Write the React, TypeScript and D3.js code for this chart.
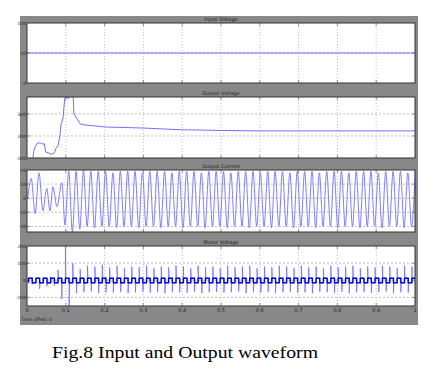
import React from "react";
import * as d3 from "d3";

// ---------- data ----------
const X_TICKS = [0, 0.1, 0.2, 0.3, 0.4, 0.5, 0.6, 0.7, 0.8, 0.9, 1];
const X_LABELS = ["0", "0.1", "0.2", "0.3", "0.4", "0.5", "0.6", "0.7", "0.8", "0.9", "1"];

const TITLES = ["Input Voltage", "Output Voltage", "Output Current", "Motor Voltage"];

const Y1_TICKS = [0, 50, 100];
const Y2_TICKS = [100, 200, 300];
const Y3_TICKS = [-20, -10, 0, 10, 20];
const Y4_TICKS = [-100, 0, 100, 200];

// Input voltage (flat)
const VIN_T = [0, 1];
const VIN_V = [50, 50];

// Output voltage
const VOUT_T = [0.015, 0.018, 0.022, 0.027, 0.035, 0.04, 0.045, 0.048, 0.055, 0.06, 0.066, 0.07, 0.075, 0.08, 0.085, 0.088, 0.093, 0.097, 0.1, 0.103, 0.108, 0.112, 0.118, 0.121, 0.131, 0.137, 0.15, 0.2, 0.3, 0.35, 0.4, 0.45, 0.5, 0.6, 0.7, 1.0];
const VOUT_V = [95, 136, 155, 168, 168, 164, 164, 127, 123, 118, 118, 123, 145, 155, 205, 255, 282, 368, 380, 372, 372, 420, 420, 300, 273, 255, 250, 241, 236, 232, 228, 227, 225, 223, 223, 223];

// Output current: early section (time, value)
const IOUT_EARLY_T = [0.002, 0.011, 0.021, 0.031, 0.041, 0.051, 0.059, 0.067, 0.077, 0.09];
const IOUT_EARLY_V = [0, 14, -11, 18, -9, 7, -9, 8, -6, 11];
// Output current: successive extremes after 0.098 s, one every half period
const IOUT_START = 0.098;
const IOUT_HALF = 0.0095;
const IOUT_EXT = [
  -19, 19, -24, 19, -22, 20, -20, 19, -21, 19,
  -20, 19, -20, 18, -21, 19, -20, 19, -20, 19,
  -21, 18, -20, 19, -20, 19, -21, 19, -20, 18,
  -20, 19, -21, 19, -20, 19, -20, 18, -21, 19,
  -20, 19, -20, 19, -21, 18, -20, 19, -20, 19,
  -21, 19, -20, 18, -20, 19, -21, 19, -20, 19,
  -20, 18, -21, 19, -20, 19, -20, 19, -21, 18,
  -20, 19, -20, 19, -21, 19, -20, 18, -20, 19,
  -21, 19, -20, 19, -20, 18, -21, 19, -20, 19,
  -20, 19, -21, 18, -20, 19,
];

// Motor voltage: per-cycle square wave levels and switching spikes
const VM_START = 0.004;
const VM_PERIOD = 0.019;
const VM_HIGH = 12;
const VM_LOW = -14;
const VM_UP = [
  10, 12, 15, 20, 60, 220, 100, 65, 85, 80,
  90, 75, 85, 70, 80, 75, 85, 70, 80, 75,
  85, 80, 70, 85, 75, 80, 70, 85, 75, 80,
  85, 70, 80, 75, 85, 80, 70, 85, 75, 80,
  70, 85, 75, 80, 85, 70, 80, 75, 85, 80,
  70, 85, 80,
];
const VM_DOWN = [
  -25, -50, -35, -30, -110, -170, -75, -70, -65, -75,
  -70, -72, -68, -75, -70, -65, -72, -70, -75, -68,
  -70, -72, -66, -75, -70, -68, -72, -70, -65, -75,
  -70, -72, -68, -75, -70, -66, -72, -70, -75, -68,
  -70, -72, -66, -75, -70, -68, -72, -70, -65, -75,
  -70, -72, -68,
];

// ---------- layout ----------
const L = 27;
const R = 415;
const PANELS = [
  { top: 23, bottom: 83, domain: [0, 100], ticks: Y1_TICKS },
  { top: 97, bottom: 158, domain: [100, 377], ticks: Y2_TICKS },
  { top: 170, bottom: 232, domain: [-24, 20], ticks: Y3_TICKS },
  { top: 246, bottom: 306, domain: [-150, 200], ticks: Y4_TICKS },
];

const LIGHT = "#7070ff";
const DARK = "#0000e0";

export default function App() {
  const x = d3.scaleLinear().domain([0, 1]).range([L, R]);
  const ys = PANELS.map((p) => d3.scaleLinear().domain(p.domain).range([p.bottom, p.top]));

  const lineLin = (y: any) =>
    d3.line<[number, number]>().x((d) => x(d[0])).y((d) => y(d[1]));

  const vinPts: [number, number][] = VIN_T.map((t, i) => [t, VIN_V[i]]);
  const voutPts: [number, number][] = VOUT_T.map((t, i) => [t, VOUT_V[i]]);

  const ioutPts: [number, number][] = IOUT_EARLY_T.map((t, i) => [t, IOUT_EARLY_V[i]]);
  IOUT_EXT.forEach((v, i) => ioutPts.push([IOUT_START + i * IOUT_HALF, v]));
  const ioutPath = d3
    .line<[number, number]>()
    .x((d) => x(d[0]))
    .y((d) => ys[2](d[1]))
    .curve(d3.curveMonotoneX)(ioutPts);

  const vmSpike: [number, number][] = [];
  const vmSquare: [number, number][] = [];
  VM_UP.forEach((up, i) => {
    const s = VM_START + i * VM_PERIOD;
    const h = s + VM_PERIOD / 2;
    vmSpike.push([s, VM_LOW], [s, up], [s + 0.0012, VM_HIGH], [h, VM_HIGH], [h, VM_DOWN[i]], [h + 0.0012, VM_LOW], [s + VM_PERIOD, VM_LOW]);
    vmSquare.push([s, VM_LOW], [s, VM_HIGH], [h, VM_HIGH], [h, VM_LOW], [s + VM_PERIOD, VM_LOW]);
  });

  const fontTiny = "'DejaVu Sans', sans-serif";

  return (
    <svg width={433} height={376} style={{ position: "absolute", left: 0, top: 0, background: "#fff" }}>
      <defs>
        {PANELS.map((p, i) => (
          <clipPath id={`clip${i}`} key={i}>
            <rect x={L} y={p.top} width={R - L} height={p.bottom - p.top} />
          </clipPath>
        ))}
      </defs>
      <rect x={20} y={16} width={398} height={309} fill="#888888" />
      {PANELS.map((p, i) => {
        const y = ys[i];
        return (
          <g key={i}>
            <text x={(L + R) / 2} y={p.top - 2} fontSize={5} fontFamily={fontTiny} fill="#222" textAnchor="middle">
              {TITLES[i]}
            </text>
            <rect x={L} y={p.top} width={R - L} height={p.bottom - p.top} fill="#fff" />
            {X_TICKS.map((t, k) =>
              k === 0 || k === X_TICKS.length - 1 ? null : (
                <g key={k}>
                  <line x1={x(t)} x2={x(t)} y1={p.top} y2={p.bottom} stroke="#b0b0b0" strokeWidth={0.8} strokeDasharray="1,2" />
                  <line x1={x(t)} x2={x(t)} y1={p.top} y2={p.top + 3} stroke="#6f7f6f" strokeWidth={0.8} />
                  <line x1={x(t)} x2={x(t)} y1={p.bottom - 3} y2={p.bottom} stroke="#6f7f6f" strokeWidth={0.8} />
                </g>
              )
            )}
            {p.ticks.map((v, k) => {
              const yy = y(v);
              const inner = yy > p.top + 1 && yy < p.bottom - 1;
              return (
                <g key={k}>
                  {inner && (
                    <line x1={L} x2={R} y1={yy} y2={yy} stroke="#b0b0b0" strokeWidth={0.8} strokeDasharray="2,2" />
                  )}
                  {inner && <line x1={L} x2={L + 3} y1={yy} y2={yy} stroke="#6f7f6f" strokeWidth={0.8} />}
                  {inner && <line x1={R - 3} x2={R} y1={yy} y2={yy} stroke="#6f7f6f" strokeWidth={0.8} />}
                  <text x={26} y={yy + 1.7} fontSize={4.5} fontFamily={fontTiny} fill="#222" textAnchor="end">
                    {v}
                  </text>
                </g>
              );
            })}
            <g clipPath={`url(#clip${i})`}>
              {i === 0 && <path d={lineLin(y)(vinPts) || ""} fill="none" stroke={LIGHT} strokeWidth={1} />}
              {i === 1 && <path d={lineLin(y)(voutPts) || ""} fill="none" stroke={LIGHT} strokeWidth={1} />}
              {i === 2 && <path d={ioutPath || ""} fill="none" stroke={LIGHT} strokeWidth={0.9} />}
              {i === 3 && (
                <>
                  <path d={lineLin(y)(vmSpike) || ""} fill="none" stroke={LIGHT} strokeWidth={0.8} />
                  <path d={lineLin(y)(vmSquare) || ""} fill="none" stroke={DARK} strokeWidth={1.4} />
                </>
              )}
            </g>
            <rect x={L} y={p.top} width={R - L} height={p.bottom - p.top} fill="none" stroke="#333" strokeWidth={1} />
          </g>
        );
      })}
      {X_TICKS.map((t, k) => (
        <text key={k} x={x(t)} y={312} fontSize={5} fontFamily={fontTiny} fill="#222" textAnchor="middle">
          {X_LABELS[k]}
        </text>
      ))}
      <text x={21} y={321} fontSize={4.5} fontFamily={fontTiny} fill="#222">
        Time offset:  0
      </text>
      <text x={52} y={358} fontSize={17.5} textLength={266} lengthAdjust="spacingAndGlyphs" fontFamily="'Liberation Serif', 'Times New Roman', serif" fill="#000">
        Fig.8 Input and Output waveform
      </text>
    </svg>
  );
}
